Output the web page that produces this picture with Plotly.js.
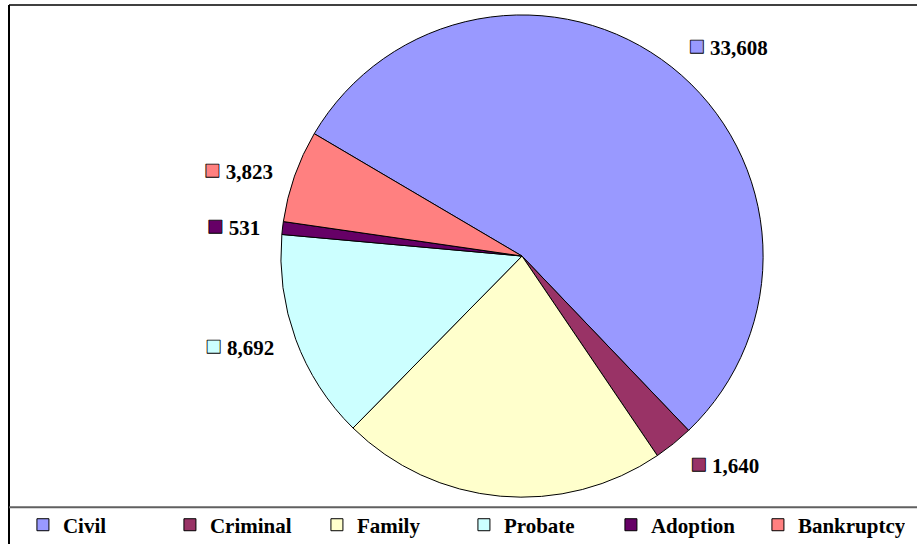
<!DOCTYPE html>
<html>
<head>
<meta charset="utf-8">
<script src="https://cdn.plot.ly/plotly-3.0.1.min.js"></script>
<style>html,body{margin:0;padding:0;background:#fff;}#chart{width:917px;height:546px;}</style>
</head>
<body>
<div id="chart"></div>
<script>
// Data
const categories = ["Civil", "Criminal", "Family", "Probate", "Adoption", "Bankruptcy"];
const caseCounts = [33608, 1640, 13500, 8692, 531, 3823];
const showValueLabel = [true, true, false, true, true, true];
const sliceColors = ["#9999FF", "#993366", "#FFFFCC", "#CCFFFF", "#660066", "#FF8080"];

const labelTemplates = categories.map((c, i) => showValueLabel[i]
  ? '<span style="color:' + sliceColors[i] + ';stroke:#000;stroke-width:0.8px;font-size:27px">■</span> %{value:,}'
  : '');

const fontMain = {family: 'Liberation Serif', size: 21, color: '#000', weight: 'bold'};

// Visible pie (slices + legend)
const pieTrace = {
  type: 'pie',
  labels: categories,
  values: caseCounts,
  sort: false,
  direction: 'clockwise',
  rotation: 300.5,
  marker: {colors: sliceColors, line: {color: '#000', width: 1}},
  textinfo: 'none',
  hoverinfo: 'none',
  domain: {x: [280/917, 764/917], y: [1 - 499/546, 1 - 15/546]}
};

// Transparent, slightly larger pie carrying the outside value labels
const labelTrace = {
  type: 'pie',
  labels: categories,
  values: caseCounts,
  sort: false,
  direction: 'clockwise',
  rotation: 300.5,
  showlegend: false,
  marker: {colors: categories.map(() => 'rgba(0,0,0,0)'), line: {width: 0}},
  texttemplate: labelTemplates,
  textposition: 'outside',
  textfont: fontMain,
  outsidetextfont: fontMain,
  hoverinfo: 'none',
  domain: {x: [265/917, 779/917], y: [1 - 514/546, 1]}
};

const layout = {
  width: 917, height: 546,
  margin: {l: 0, r: 0, t: 0, b: 0},
  paper_bgcolor: '#fff',
  plot_bgcolor: '#fff',
  showlegend: true,
  legend: {
    orientation: 'h',
    x: 0.025, xanchor: 'left',
    y: 1 - 527/546, yanchor: 'middle',
    font: fontMain,
    entrywidth: 102,
    entrywidthmode: 'pixels',
    traceorder: 'normal',
    bgcolor: 'rgba(0,0,0,0)'
  },
  shapes: [
    {type: 'line', xref: 'paper', yref: 'paper', x0: 9/917, x1: 1, y0: 1 - 5/546, y1: 1 - 5/546, line: {color: '#404040', width: 2}},
    {type: 'line', xref: 'paper', yref: 'paper', x0: 9/917, x1: 9/917, y0: 0, y1: 1 - 5/546, line: {color: '#000', width: 2}},
    {type: 'line', xref: 'paper', yref: 'paper', x0: 9/917, x1: 1, y0: 1 - 509/546, y1: 1 - 509/546, line: {color: '#606060', width: 2}}
  ]
};

Plotly.newPlot('chart', [pieTrace, labelTrace], layout, {staticPlot: true, displayModeBar: false});
</script>
</body>
</html>
